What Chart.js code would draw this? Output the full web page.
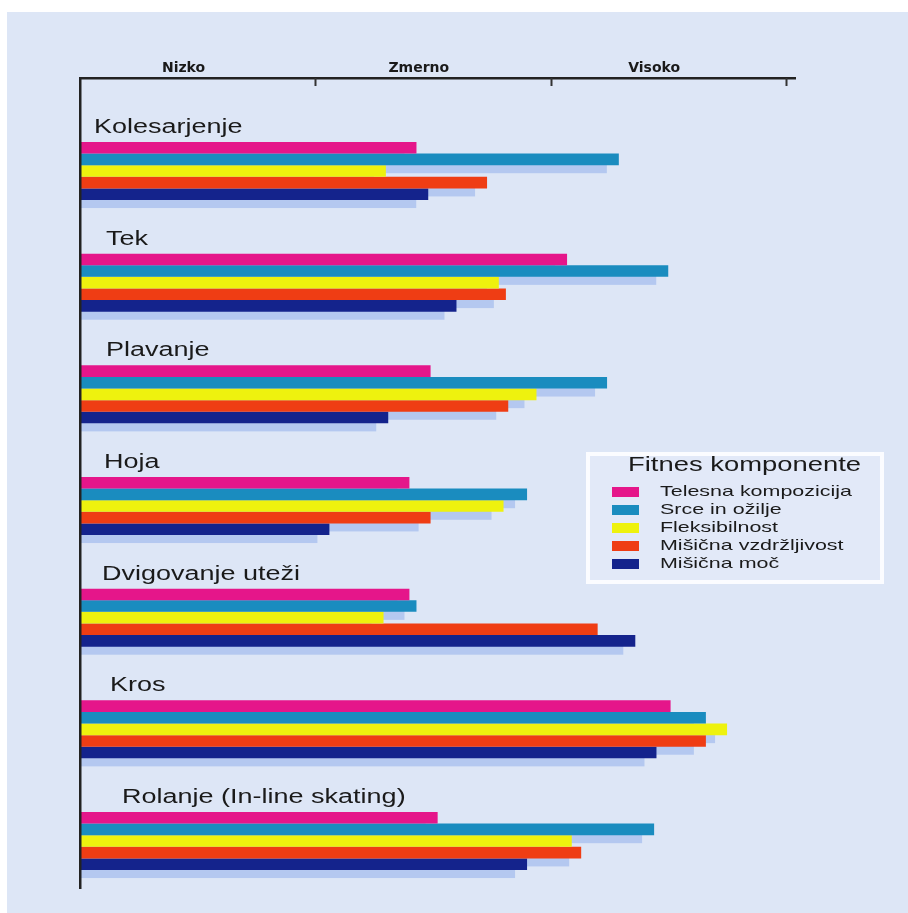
<!DOCTYPE html>
<html>
<head>
<meta charset="utf-8">
<script src="https://cdn.jsdelivr.net/npm/chart.js@4.4.1/dist/chart.umd.min.js"></script>
<style>
  html, body { margin: 0; padding: 0; background: #fff; }
  canvas { display: block; }
</style>
</head>
<body>
<canvas id="c" width="908" height="913"></canvas>
<script>
// Activities (one group of bars each), fitness components (one series each), rating levels
const activities = ['Kolesarjenje', 'Tek', 'Plavanje', 'Hoja', 'Dvigovanje uteži', 'Kros', 'Rolanje (In-line skating)'];
const components = ['Telesna kompozicija', 'Srce in ožilje', 'Fleksibilnost', 'Mišična vzdržljivost', 'Mišična moč'];
const levels = ['Nizko', 'Zmerno', 'Visoko'];

// Ratings on a 0–3 scale (0 = start of "Nizko", 3 = end of "Visoko")
const telesnaKompozicija  = [1.43, 2.07, 1.49, 1.40, 1.40, 2.51, 1.52];
const srceInOzilje        = [2.29, 2.50, 2.24, 1.90, 1.43, 2.66, 2.44];
const fleksibilnost       = [1.30, 1.78, 1.94, 1.80, 1.29, 2.75, 2.09];
const misicnaVzdrzljivost = [1.73, 1.81, 1.82, 1.49, 2.20, 2.66, 2.13];
const misicnaMoc          = [1.48, 1.60, 1.31, 1.06, 2.36, 2.45, 1.90];

const seriesValues = [telesnaKompozicija, srceInOzilje, fleksibilnost, misicnaVzdrzljivost, misicnaMoc];
const seriesColors = ['#e5168a', '#1a8cbf', '#eef20e', '#ef3d14', '#14238c'];

const TEXT = '#1a1a1a';
const SANS = '"Liberation Sans", Arial, sans-serif';

// Text drawn with a slight horizontal stretch, as in the printed figure
function wideText(ctx, text, x, y, font, sx, baseline) {
  ctx.save();
  ctx.font = font;
  ctx.fillStyle = TEXT;
  ctx.textAlign = 'left';
  ctx.textBaseline = baseline || 'alphabetic';
  ctx.translate(x, y);
  ctx.scale(sx, 1);
  ctx.fillText(text, 0, 0);
  ctx.restore();
}

// Paper background
const paper = {
  id: 'paper',
  beforeDraw(chart) {
    const { ctx, width, height } = chart;
    ctx.save();
    ctx.fillStyle = '#ffffff';
    ctx.fillRect(0, 0, width, height);
    ctx.fillStyle = '#dde6f6';
    ctx.fillRect(7, 12, width - 7, height - 12);
    ctx.restore();
  }
};

// Soft offset shadow behind every bar
const barShadows = {
  id: 'barShadows',
  beforeDatasetsDraw(chart) {
    const ctx = chart.ctx;
    ctx.save();
    ctx.fillStyle = '#b4c8f0';
    chart.data.datasets.forEach((ds, i) => {
      const meta = chart.getDatasetMeta(i);
      if (meta.hidden) return;
      meta.data.forEach(bar => {
        const w = bar.x - bar.base - 12;
        if (w > 0) ctx.fillRect(bar.base, bar.y - bar.height / 2 + 8, w, bar.height);
      });
    });
    ctx.restore();
  }
};

// Activity names written above each group of bars
const labelIndent = [14, 26, 26, 24, 22, 30, 42];
const groupTitles = {
  id: 'groupTitles',
  afterDatasetsDraw(chart) {
    const meta0 = chart.getDatasetMeta(0);
    const left = chart.chartArea.left;
    activities.forEach((name, i) => {
      const bar = meta0.data[i];
      const top = bar.y - bar.height / 2;
      wideText(chart.ctx, name, left + labelIndent[i], top - 9, '20px ' + SANS, 1.35);
    });
  }
};

// Tick marks hanging below the top axis at the level boundaries, plus the boxed legend
const axisMarksAndLegend = {
  id: 'axisMarksAndLegend',
  afterDraw(chart) {
    const ctx = chart.ctx;
    const xs = chart.scales.x;
    const top = chart.chartArea.top;
    ctx.save();
    ctx.strokeStyle = '#333';
    ctx.lineWidth = 2;
    [1, 2, 3].forEach(v => {
      const px = Math.round(xs.getPixelForValue(v)) + 0.5;
      ctx.beginPath();
      ctx.moveTo(px, top);
      ctx.lineTo(px, top + 8);
      ctx.stroke();
    });
    ctx.restore();

    // legend box
    const bx = 588, by = 454, bw = 294, bh = 128;
    ctx.save();
    ctx.fillStyle = '#e2e9f8';
    ctx.fillRect(bx, by, bw, bh);
    ctx.strokeStyle = '#fbfcff';
    ctx.lineWidth = 4;
    ctx.strokeRect(bx, by, bw, bh);
    ctx.restore();
    wideText(ctx, 'Fitnes komponente', bx + 40, by + 17, '20px ' + SANS, 1.37);
    chart.data.datasets.forEach((ds, i) => {
      const rowY = by + 38 + i * 18;
      ctx.save();
      ctx.fillStyle = ds.backgroundColor;
      ctx.fillRect(bx + 24, rowY - 5, 27, 10);
      ctx.restore();
      wideText(ctx, ds.label, bx + 72, rowY, '15px ' + SANS, 1.43, 'middle');
    });
  }
};

new Chart(document.getElementById('c'), {
  type: 'bar',
  data: {
    datasets: components.map((name, s) => ({
      label: name,
      data: seriesValues[s].map((v, i) => ({ x: v, y: i })),
      backgroundColor: seriesColors[s],
      borderWidth: 0
    }))
  },
  options: {
    responsive: false,
    animation: false,
    indexAxis: 'y',
    layout: { padding: { left: 80, top: 48, right: 112.7, bottom: 25 } },
    datasets: { bar: { categoryPercentage: 0.52, barPercentage: 1 } },
    plugins: { legend: { display: false }, tooltip: { enabled: false } },
    scales: {
      x: {
        type: 'linear',
        position: 'top',
        min: 0,
        max: 3.04,
        afterFit(scale) { scale.height = 30; },
        afterBuildTicks(scale) { scale.ticks = levels.map((_, i) => ({ value: i + 0.44 })); },
        ticks: {
          callback: (v, i) => levels[i],
          autoSkip: false,
          maxRotation: 0,
          padding: 1,
          color: TEXT,
          font: { family: '"DejaVu Sans", sans-serif', size: 14, weight: 'bold' }
        },
        grid: { display: false, drawTicks: false },
        border: { display: true, color: '#222', width: 2.5, z: 1 }
      },
      y: {
        type: 'linear',
        reverse: true,
        offset: false,
        min: -0.833,
        max: 6.421,
        afterFit(scale) { scale.width = 0; },
        afterBuildTicks(scale) { scale.ticks = activities.map((_, i) => ({ value: i })); },
        ticks: { display: false },
        grid: { display: false, drawTicks: false },
        border: { display: true, color: '#222', width: 2.5, z: 1 }
      }
    }
  },
  plugins: [paper, barShadows, groupTitles, axisMarksAndLegend]
});
</script>
</body>
</html>
